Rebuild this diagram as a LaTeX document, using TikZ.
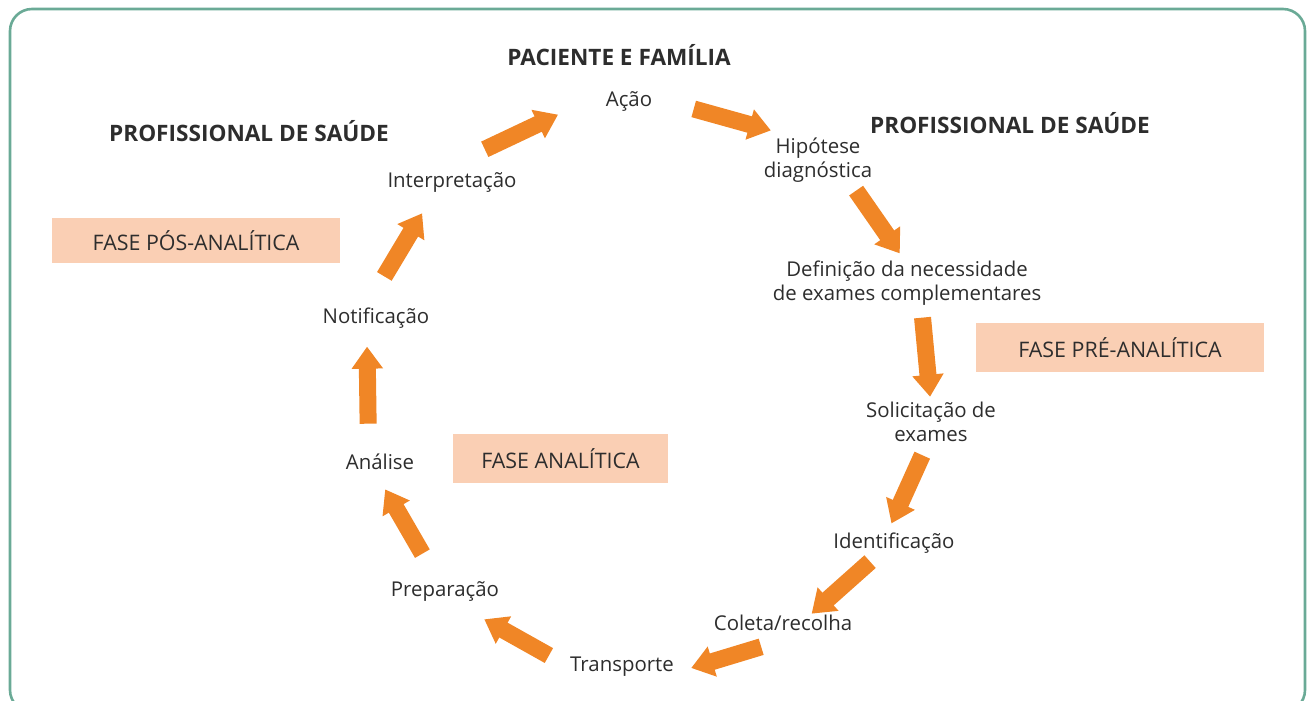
\documentclass[tikz,border=0pt]{standalone}
\usepackage{fontspec}
\setmainfont{Open Sans}
\usetikzlibrary{arrows.meta}
\definecolor{laranja}{RGB}{240,134,38}
\definecolor{pessego}{RGB}{250,207,180}
\definecolor{verde}{RGB}{106,170,150}
\definecolor{texto}{RGB}{45,45,45}
\begin{document}
\begin{tikzpicture}[x=0.5pt,y=-0.5pt,
		etapa/.style={inner sep=2pt,text=texto,align=center,font=\fontsize{10.2}{12}\selectfont},
		titulo/.style={text=texto,font=\fontsize{11.3}{13}\selectfont\bfseries},
		fase/.style={fill=pessego,text=texto,minimum height=24.5pt,font=\fontsize{10.7}{13}\selectfont},
		seta/.style={draw=laranja,line width=8.5pt,-{Triangle[width=15pt,length=11pt]}}]
			\useasboundingbox (0,0) rectangle (1313,701);
			\clip (0,0) rectangle (1313,701);
			\draw[verde,line width=1.3pt,rounded corners=11pt] (10,9) rectangle (1305,712);
			\node[titulo] (paciente) at (619,55) {PACIENTE E FAMÍLIA};
			\node[titulo] (profesq) at (249,131) {PROFISSIONAL DE SAÚDE};
			\node[titulo] (profdir) at (1010,123) {PROFISSIONAL DE SAÚDE};
			\node[fase,minimum width=144pt,minimum height=22.5pt] (fasepos) at (196,240.5) {FASE PÓS-ANALÍTICA};
			\node[fase,minimum width=144pt] (fasepre) at (1120,347.5) {FASE PRÉ-ANALÍTICA};
			\node[fase,minimum width=107.5pt] (faseana) at (560.5,458.5) {FASE ANALÍTICA};
			\node[etapa] (acao) at (629,101) {Ação};
			\node[etapa] (hipotese) at (818,160) {Hipótese\\diagnóstica};
			\node[etapa] (definicao) at (907,283) {Definição da necessidade\\de exames complementares};
			\node[etapa] (solicitacao) at (931,422) {Solicitação de\\exames};
			\node[etapa] (identificacao) at (894,543) {Identificação};
			\node[etapa] (coleta) at (783,623) {Coleta/recolha};
			\node[etapa] (transporte) at (622,667) {Transporte};
			\node[etapa] (preparacao) at (445,591) {Preparação};
			\node[etapa] (analise) at (380,462) {Análise};
			\node[etapa] (notificacao) at (376,318) {Notificação};
			\node[etapa] (interpretacao) at (452,182) {Interpretação};
			\draw[seta,shorten <=21.5pt,shorten >=24pt] (interpretacao.113) -- (acao.166);
			\draw[seta,shorten <=19.3pt,shorten >=5.4pt] (acao.5) -- (hipotese.144);
			\draw[seta,shorten <=2.4pt,shorten >=1.8pt] (hipotese.-37) -- (definicao.101);
			\draw[seta,shorten <=4pt,shorten >=0.5pt] (definicao.-61) -- (solicitacao.92);
			\draw[seta,shorten <=4.9pt,shorten >=2.7pt] (solicitacao.259) -- (identificacao.108);
			\draw[seta,shorten <=3pt,shorten >=-2.2pt] (identificacao.217) -- (coleta.21);
			\draw[seta,shorten <=19.9pt,shorten >=6.8pt] (coleta.-37) -- (transporte.-5);
			\draw[seta,shorten <=9.7pt,shorten >=14.3pt] (transporte.178) -- (preparacao.-45);
			\draw[seta,shorten <=13.3pt,shorten >=8.7pt] (preparacao.123) -- (analise.254);
			\draw[seta,shorten <=13pt,shorten >=7pt] (analise.133) -- (notificacao.238);
			\draw[seta,shorten <=15.7pt,shorten >=9.9pt] (notificacao.118) -- (interpretacao.216);
		\end{tikzpicture}
\end{document}
